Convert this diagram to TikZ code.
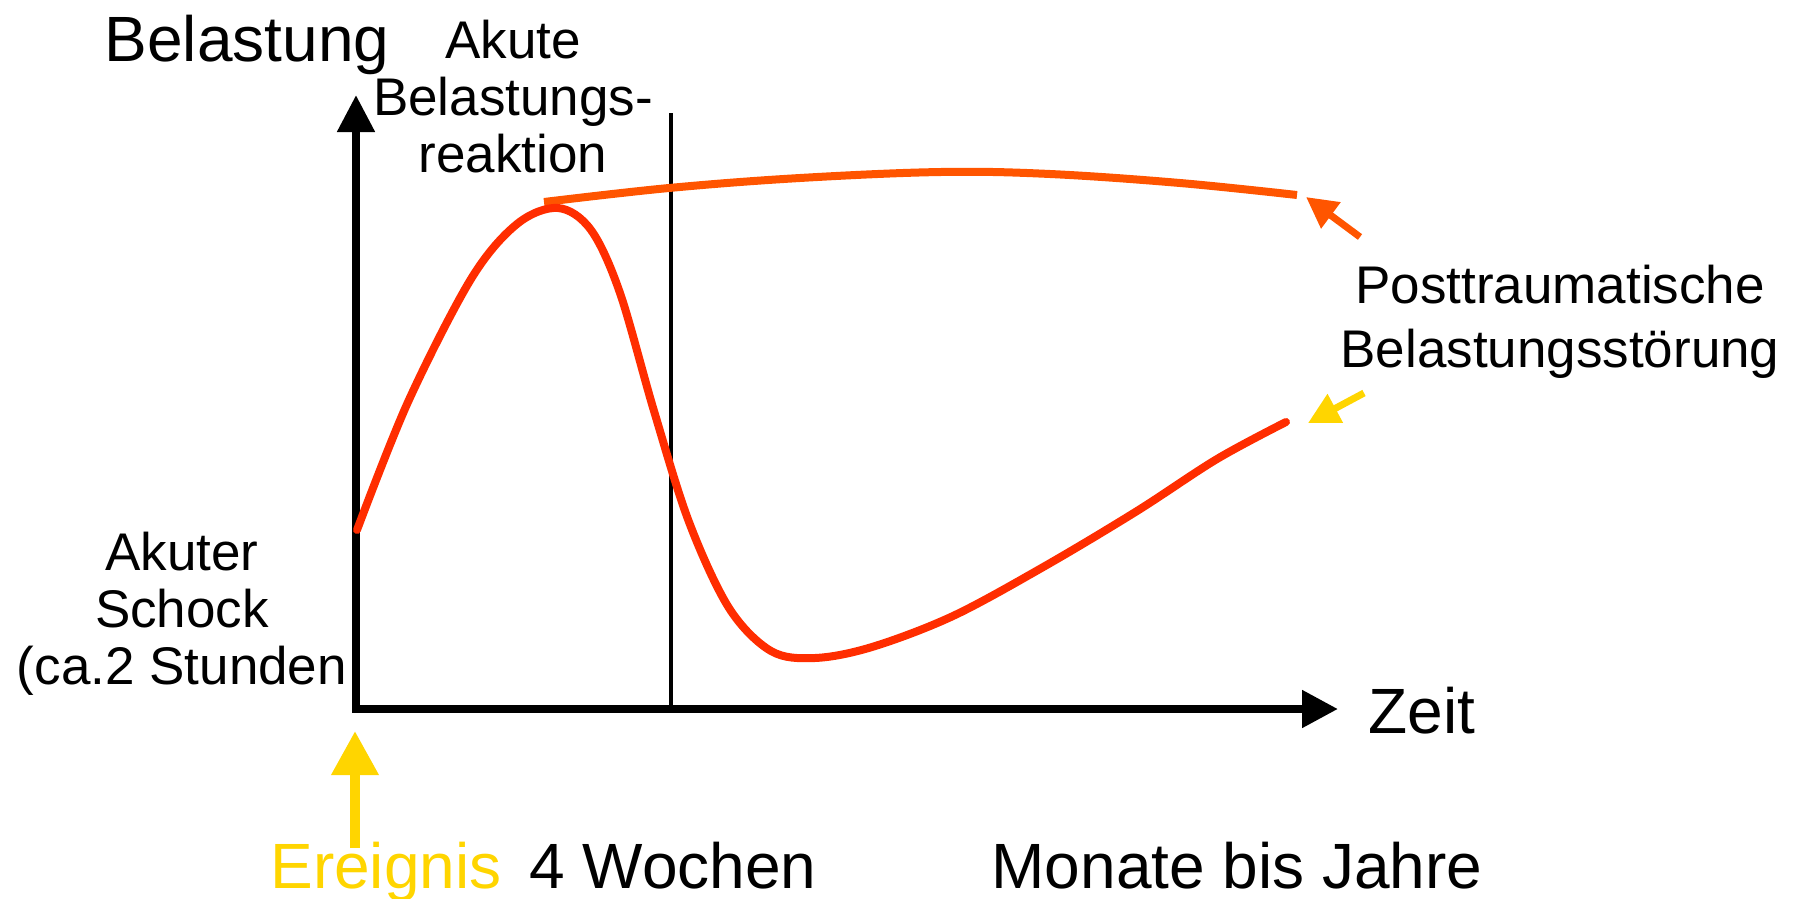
\documentclass[tikz,border=0pt]{standalone}
\usepackage{fontspec}
\setmainfont{Liberation Sans}
\usetikzlibrary{arrows.meta}
\definecolor{curvered}{RGB}{255,45,0}
\definecolor{ptsorange}{RGB}{255,85,0}
\definecolor{eventyellow}{RGB}{255,213,0}
\begin{document}
\begin{tikzpicture}[x=1pt,y=-1pt,
  bigtext/.style={font=\fontsize{64}{70}\selectfont, inner sep=0pt, anchor=base},
  midtext/.style={font=\fontsize{53}{57}\selectfont, inner sep=0pt, anchor=base, align=center},
  axisline/.style={line width=8pt, black, line join=miter},
  thinline/.style={line width=3.5pt, black},
  curveline/.style={line width=8pt, line cap=round, line join=round},
  pointer/.style={line width=7pt, -{Triangle[length=31pt,width=31pt]}}
]
\useasboundingbox (0,0) rectangle (1800,899);

% axes
\coordinate (ytip) at (356,95);
\coordinate (origin) at (356,709);
\coordinate (xtip) at (1338,709);
\draw[axisline, {Triangle[length=37pt,width=36pt]}-{Triangle[length=36pt,width=36pt]}] (ytip) -- (origin) -- (xtip);

% 4 weeks marker line
\coordinate (wtop) at (671,113);
\coordinate (wbot) at (671,709);
\draw[thinline] (wtop) -- (wbot);

% PTSD chronic line (orange)
\draw[curveline, ptsorange, line cap=butt] plot[smooth, tension=0.6] coordinates
  {(544,202) (669,188) (800,178) (941,172) (1050,174) (1180,183) (1297,195)};

% stress curve (red)
\draw[curveline, curvered] plot[smooth, tension=0.55] coordinates
  {(357,530) (408,402) (471,279) (517,224) (558,208) (591,230) (620,293) (654,411)
   (689,522) (729,608) (771,651) (815,658) (872,647) (953,616) (1045,566)
   (1137,511) (1217,459) (1286,422)};

% labels
\node[bigtext] (belastung) at (247,62) {Belastung};
\node[bigtext] (zeit) at (1422,733) {Zeit};
\node[midtext] (akute) at (513,172) {Akute\\Belastungs-\\reaktion};
\node[midtext] (schock) at (182,684) {Akuter\\Schock\\(ca.2 Stunden};
\node[midtext, font=\fontsize{53}{64}\selectfont] (ptbs) at (1560,367) {Posttraumatische\\Belastungsstörung};
\node[bigtext, text=eventyellow] (ereignis) at (386,888) {Ereignis};
\node[bigtext] (wochen) at (673,888) {4 Wochen};
\node[bigtext] (jahre) at (1237,888) {Monate bis Jahre};

% pointers
\coordinate (otail) at (1360,237);
\coordinate (otip) at (1306,197);
\draw[pointer, ptsorange] (otail) -- (otip);
\coordinate (ytail) at (1364,393);
\coordinate (yltip) at (1308,423);
\draw[pointer, eventyellow] (ytail) -- (yltip);
\coordinate (etail) at (355,848);
\coordinate (etip) at (355,731);
\draw[line width=10pt, eventyellow, -{Triangle[length=44pt,width=45pt]}] (etail) -- (etip);
\end{tikzpicture}
\end{document}
